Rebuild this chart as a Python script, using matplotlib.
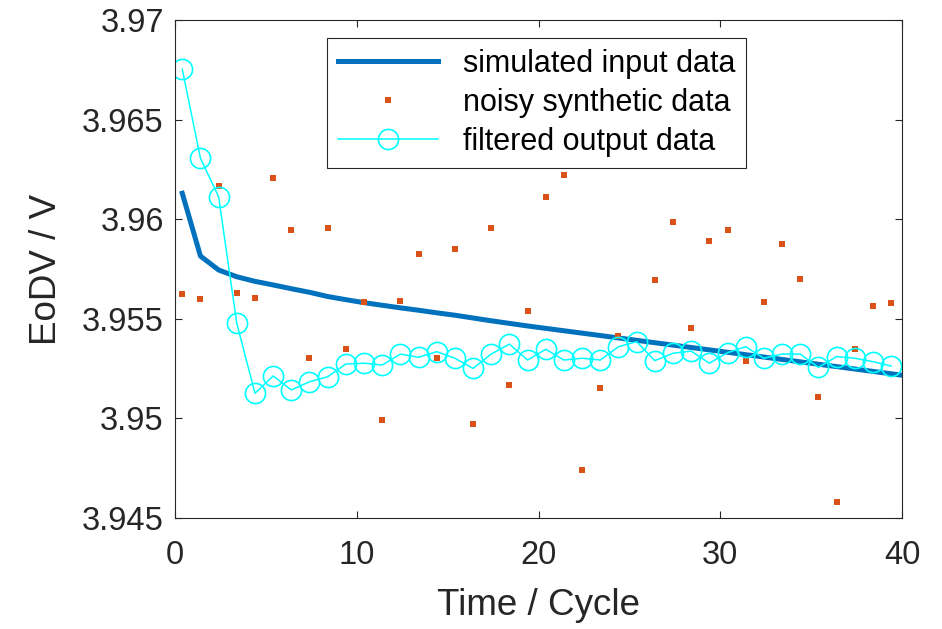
import numpy as np
import matplotlib
matplotlib.use("Agg")
import matplotlib.pyplot as plt

plt.rcParams['font.family'] = ['Liberation Sans', 'DejaVu Sans']

# time axis (cycles) for the synthetic / filtered samples
cycles = [0.4, 1.4, 2.4, 3.4, 4.4, 5.4, 6.4, 7.4, 8.4, 9.4,
          10.4, 11.4, 12.4, 13.4, 14.4, 15.4, 16.4, 17.4, 18.4, 19.4,
          20.4, 21.4, 22.4, 23.4, 24.4, 25.4, 26.4, 27.4, 28.4, 29.4,
          30.4, 31.4, 32.4, 33.4, 34.4, 35.4, 36.4, 37.4, 38.4, 39.4]

# simulated input curve (one more sample so it runs to the right edge)
sim_cycles = cycles + [40.4]
simulated = [3.96130, 3.95815, 3.95745, 3.95711, 3.95688, 3.95670, 3.95651, 3.95633, 3.95612, 3.95596,
             3.95581, 3.95568, 3.95555, 3.95543, 3.95530, 3.95518, 3.95504, 3.95490, 3.95477, 3.95464,
             3.95452, 3.95440, 3.95428, 3.95416, 3.95404, 3.95392, 3.95380, 3.95368, 3.95356, 3.95344,
             3.95332, 3.95320, 3.95308, 3.95296, 3.95284, 3.95272, 3.95260, 3.95248, 3.95236, 3.95224,
             3.95212]

noisy = [3.95624, 3.95598, 3.96167, 3.95628, 3.95606, 3.96207, 3.95947, 3.95303, 3.95957, 3.95348,
         3.95583, 3.94992, 3.95588, 3.95827, 3.95305, 3.95850, 3.94972, 3.95956, 3.95169, 3.95541,
         3.96110, 3.96220, 3.94739, 3.95153, 3.95412, np.nan, 3.95693, 3.95986, 3.95452, 3.95891,
         3.95947, 3.95288, 3.95583, 3.95876, 3.95701, 3.95109, 3.94579, 3.95347, 3.95566, 3.95579]

filtered = [3.96753, 3.96306, 3.96113, 3.95477, 3.95126, 3.95213, 3.95143, 3.95184, 3.95209, 3.95273,
            3.95277, 3.95268, 3.95323, 3.95307, 3.95335, 3.95302, 3.95251, 3.95323, 3.95373, 3.95293,
            3.95347, 3.95293, 3.95302, 3.95293, 3.95360, 3.95385, 3.95290, 3.95327, 3.95338, 3.95277,
            3.95330, 3.95360, 3.95302, 3.95323, 3.95323, 3.95256, 3.95310, 3.95302, 3.95285, 3.95263]

xticks = [0, 10, 20, 30, 40]
yticks = [3.945, 3.95, 3.955, 3.96, 3.965, 3.97]
ytick_labels = ['3.945', '3.95', '3.955', '3.96', '3.965', '3.97']

fig = plt.figure(figsize=(9.42, 6.29), dpi=100)
ax = fig.add_axes([175/942, 1-518/629, 727/942, 498/629])

ax.plot(sim_cycles, simulated, color='#0072BD', lw=3.6, label='simulated input data')
ax.plot(cycles, noisy, ls='none', marker='s', ms=4.5, mew=0, color='#D95319',
        label='noisy synthetic data')
ax.plot(cycles, filtered, color='#00FFFF', lw=1.1, marker='o', ms=14.5, mfc='none',
        mew=1.2, label='filtered output data')

ax.set_xlim(0, 40)
ax.set_ylim(3.945, 3.97)
ax.set_xticks(xticks)
ax.set_yticks(yticks)
ax.set_yticklabels(ytick_labels)
ax.tick_params(direction='in', top=True, right=True, length=5, width=0.8,
               colors='#262626', labelsize=23.5)
ax.tick_params(axis='x', pad=16)
ax.tick_params(axis='y', pad=8)
for s in ax.spines.values():
    s.set_color('#262626')
    s.set_linewidth(0.8)

ax.set_xlabel('Time / Cycle', fontsize=26.5, color='#262626', labelpad=12)
ax.set_ylabel('EoDV / V', fontsize=26.5, color='#262626', labelpad=13)

leg = ax.legend(loc='upper left', bbox_to_anchor=(0.209, 0.964), borderaxespad=0,
                fontsize=22, handlelength=3.3, handletextpad=0.8, labelspacing=0.3,
                borderpad=0.35, fancybox=False, framealpha=1, edgecolor='#262626')
leg.get_frame().set_linewidth(0.8)

fig.savefig('out.png', dpi=100)
